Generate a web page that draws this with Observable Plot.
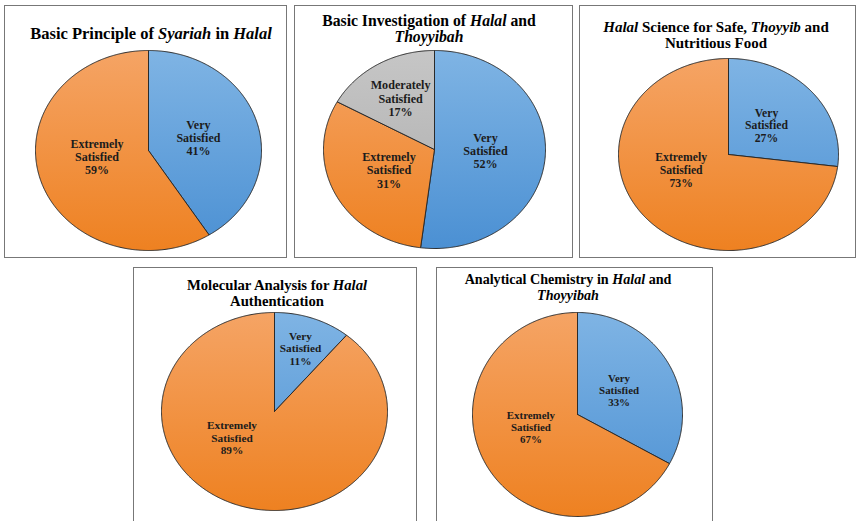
<!DOCTYPE html>
<html><head><meta charset="utf-8">
<script src="https://cdn.jsdelivr.net/npm/d3@7"></script>
<script src="https://cdn.jsdelivr.net/npm/@observablehq/plot@0.6"></script>
<style>
html,body{margin:0;padding:0;background:#fff;overflow:hidden;}
#root{position:relative;width:857px;height:521px;overflow:hidden;font-family:"Liberation Serif","Times New Roman",Times,"DejaVu Serif",serif;}
.box{position:absolute;box-sizing:border-box;border:1.5px solid #777;background:#fff;}
.chart{position:absolute;}
.title{position:absolute;transform:translateX(-50%);white-space:nowrap;font-weight:bold;text-align:center;color:#000;}
</style></head><body><div id="root"></div>
<script>
// ---- data ----
const panelTitles = [
  "Basic Principle of <i>Syariah</i> in <i>Halal</i>",
  "Basic Investigation of <i>Halal</i> and<br><i>Thoyyibah</i>",
  "<i>Halal</i> Science for Safe, <i>Thoyyib</i> and<br>Nutritious Food",
  "Molecular Analysis for <i>Halal</i><br>Authentication",
  "Analytical Chemistry in <i>Halal</i> and<br><i>Thoyyibah</i>"
];
const categories = ["Very Satisfied", "Extremely Satisfied", "Moderately Satisfied"];
const verySatisfied = [41, 52, 27, 11, 33];
const extremelySatisfied = [59, 31, 73, 89, 67];
const moderatelySatisfied = [0, 17, 0, 0, 0];

// ---- styling / layout ----
const gradientStops = {
  "Very Satisfied": ["#7fb4e4", "#4b90d3"],
  "Extremely Satisfied": ["#f5a465", "#ee8121"],
  "Moderately Satisfied": ["#c6c6c6", "#ababab"]
};
// box [left, top, right, bottom], pie [cx, cy, rx, ry], title [cx, first-line center y], font sizes
const layout = [
  {box: [4, 5, 287, 258], pie: [148, 150, 113, 100], title: [151, 33], tSize: 16.5, tLine: 17, lSize: 12},
  {box: [294, 5, 573, 258], pie: [434, 149, 111, 99], title: [429, 21], tSize: 15.7, tLine: 16.5, lSize: 12.1},
  {box: [579, 5, 856, 258], pie: [728, 154, 110, 96], title: [716, 27], tSize: 15, tLine: 16.5, lSize: 11.7},
  {box: [133, 267, 417, 560], pie: [274, 411, 113, 99], title: [277, 285], tSize: 14.7, tLine: 16, lSize: 11.3},
  {box: [436, 267, 713, 560], pie: [577, 414, 105, 102], title: [568, 279], tSize: 14.1, tLine: 16.5, lSize: 10.9}
];

const root = document.getElementById("root");
const pie = d3.pie().sort(null).value(d => d.value).startAngle(0).endAngle(2 * Math.PI);

panelTitles.forEach((title, i) => {
  const {box, pie: [cx, cy, rx, ry], title: [tx, ty], tSize, tLine, lSize} = layout[i];
  const [L, T, R, B] = box;
  const W = R - L, H = B - T;

  const boxDiv = document.createElement("div");
  boxDiv.className = "box";
  Object.assign(boxDiv.style, {left: L + "px", top: T + "px", width: W + "px", height: H + "px"});
  root.appendChild(boxDiv);

  const slices = categories
    .map((c, k) => ({category: c, value: [verySatisfied, extremelySatisfied, moderatelySatisfied][k][i]}))
    .filter(d => d.value > 0);
  const arcs = pie(slices);

  const sliceMarks = arcs.map((a, k) => {
    const n = Math.max(2, Math.ceil((a.endAngle - a.startAngle) / (Math.PI / 360)));
    const pts = [{x: 0, y: 0}];
    for (let j = 0; j <= n; ++j) {
      const t = a.startAngle + (a.endAngle - a.startAngle) * j / n;
      pts.push({x: Math.sin(t), y: Math.cos(t)});
    }
    pts.push({x: 0, y: 0});
    return Plot.line(pts, {x: "x", y: "y", curve: "linear",
      fill: `url(#grad-${i}-${k})`, stroke: "#2b2b2b", strokeWidth: 1, strokeLinejoin: "round"});
  });

  // "best fit"-like label placement: big slices pulled toward the horizontal
  const labels = arcs.map(a => {
    let mid = (a.startAngle + a.endAngle) / 2;
    const share = (a.endAngle - a.startAngle) / (2 * Math.PI);
    if (share > 0.5) {
      const target = mid > Math.PI ? 1.5 * Math.PI : 0.5 * Math.PI;
      mid = mid + (target - mid) * 0.5;
    }
    const f = share < 0.15 ? 0.68 : share < 0.25 ? 0.6 : 0.46;
    return {x: f * Math.sin(mid), y: f * Math.cos(mid),
      text: a.data.category.replace(" ", "\n") + "\n" + a.data.value + "%"};
  });

  const svg = Plot.plot({
    width: W, height: H, margin: 0,
    x: {domain: [-1, 1], range: [cx - rx - L, cx + rx - L], axis: null},
    y: {domain: [-1, 1], range: [cy + ry - T, cy - ry - T], axis: null},
    style: {background: "transparent", overflow: "visible"},
    marks: [
      ...sliceMarks,
      Plot.text(labels, {x: "x", y: "y", text: "text",
        fontFamily: "'Liberation Serif', 'Times New Roman', Times, 'DejaVu Serif', serif",
        fontSize: lSize, fontWeight: "bold", lineHeight: 1.1, fill: "#1c1c1c"})
    ]
  });
  const defs = d3.select(svg).insert("defs", ":first-child");
  arcs.forEach((a, k) => {
    const [c0, c1] = gradientStops[a.data.category];
    const g = defs.append("linearGradient").attr("id", `grad-${i}-${k}`)
      .attr("gradientUnits", "userSpaceOnUse")
      .attr("x1", 0).attr("x2", 0).attr("y1", cy - ry - T).attr("y2", cy + ry - T);
    g.append("stop").attr("offset", "0%").attr("stop-color", c0);
    g.append("stop").attr("offset", "100%").attr("stop-color", c1);
  });
  svg.classList.add("chart");
  Object.assign(svg.style, {position: "absolute", left: L + "px", top: T + "px"});
  root.appendChild(svg);

  const td = document.createElement("div");
  td.className = "title";
  td.innerHTML = title;
  Object.assign(td.style, {left: tx + "px", top: (ty - tLine / 2) + "px",
    fontSize: tSize + "px", lineHeight: tLine + "px"});
  root.appendChild(td);
});
</script>
</body></html>
